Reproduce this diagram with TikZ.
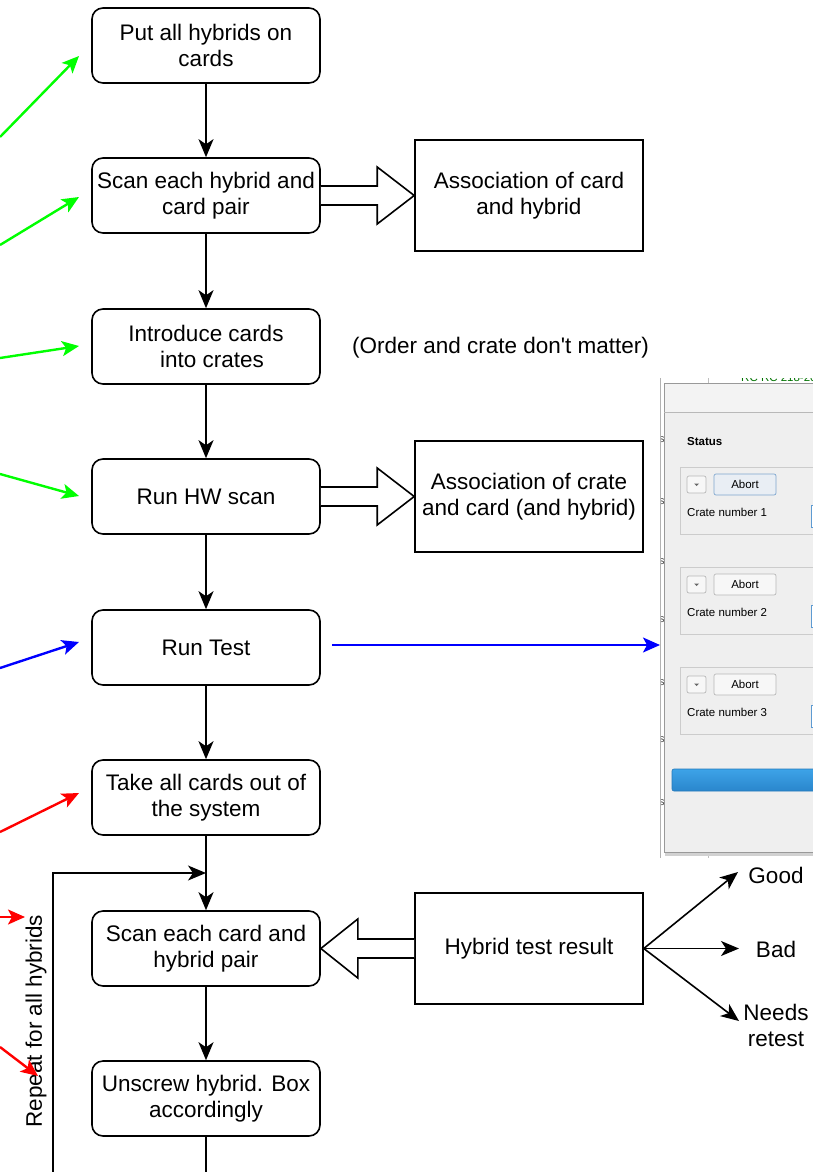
\documentclass[tikz,border=0pt]{standalone}
\usepackage{fontspec}
\setmainfont{Liberation Sans}
\newfontfamily\plainsans{Liberation Sans}
\usetikzlibrary{arrows.meta,calc}
\newcommand\flowfont{\fontsize{22.5}{26}\selectfont}
\newcommand\uifont{\fontsize{11.5}{13}\selectfont}
\definecolor{winbg}{HTML}{EFEFEF}
\definecolor{titlebg}{HTML}{F3F3F3}
\definecolor{cuegreen}{HTML}{00FF00}
\definecolor{focusedge}{HTML}{7FA7CF}
\definecolor{focusfill}{HTML}{E9EEF4}
\definecolor{fieldedge}{HTML}{5E9BD2}
\definecolor{bartop}{HTML}{3DA3E8}
\definecolor{barbot}{HTML}{2A86CC}
\definecolor{baredge}{HTML}{2479BA}
\begin{document}
\begin{tikzpicture}[x=1pt,y=-1pt,
  box/.style={draw,line width=1.6pt,rounded corners=11pt,minimum width=228pt,minimum height=75pt,inner sep=0pt,align=center,font=\flowfont},
  sbox/.style={draw,line width=1.6pt,minimum width=228pt,minimum height=111.5pt,inner sep=0pt,align=center,font=\flowfont},
  flow/.style={line width=1.6pt,-{Stealth[length=18pt,width=15pt,inset=5pt]}},
  plain/.style={line width=1.6pt},
  blockarrow/.style={draw,line width=1.6pt,fill=white,line join=miter},
  cue/.style={line width=2.4pt,-{Stealth[length=17pt,width=15pt,inset=4pt]}},
  lbl/.style={font=\flowfont,align=center,inner sep=0pt},
  uibtn/.style={draw=black!28,fill=black!3,rounded corners=2pt,line width=0.7pt},
  uigroup/.style={draw=black!20,fill=winbg,line width=0.7pt},
]
\path[use as bounding box,clip] (0,0) rectangle (813,1172);
\fill[white] (0,0) rectangle (813,1172);

% ---------- main process column ----------
\node[box] (b1) at (206,45.5)  {Put all hybrids on\\cards};
\node[box] (b2) at (206,195.5) {Scan each hybrid and\\card pair};
\node[box] (b3) at (206,346.5) {Introduce cards\\\hspace*{12pt}into crates};
\node[box] (b4) at (206,496.5) {Run HW scan};
\node[box] (b5) at (206,647.5) {Run Test};
\node[box] (b6) at (206,797.5) {Take all cards out of\\the system};
\node[box] (b7) at (206,948.5) {Scan each card and\\hybrid pair};
\node[box] (b8) at (206,1098.5) {Unscrew hybrid. Box\\accordingly};

% ---------- side boxes ----------
\node[sbox] (a1) at (529,195.5) {Association of card\\and hybrid};
\node[sbox] (a2) at (529,496.5) {Association of crate\\and card (and hybrid)};
\node[sbox] (hr) at (529,948.5) {Hybrid test result};
\node[lbl] (note) at (500.5,348) {\plainsans (Order and crate don't matter)};

% ---------- vertical flow ----------
\coordinate (join) at (206,873);
\coordinate (loopstart) at (53,1190);
\coordinate (down) at (206,1190);
\draw[flow] (b1.south) -- (b2.north);
\draw[flow] (b2.south) -- (b3.north);
\draw[flow] (b3.south) -- (b4.north);
\draw[flow] (b4.south) -- (b5.north);
\draw[flow] (b5.south) -- (b6.north);
\draw[flow] (b6.south) -- (b7.north);
\draw[flow] (b7.south) -- (b8.north);
\draw[plain] (b8.south) -- (down);
\draw[flow] (loopstart) |- (join);
\node[lbl,rotate=90] (rep) at (36,1021) {Repeat for all hybrids};

% ---------- block arrows ----------
\draw[blockarrow] ($(b2.east)+(0,-9.5)$) -- ($(a1.west)+(-37,-9.5)$) -- ($(a1.west)+(-37,-28.5)$)
  -- (a1.west) -- ($(a1.west)+(-37,28.5)$) -- ($(a1.west)+(-37,9.5)$) -- ($(b2.east)+(0,9.5)$);
\draw[blockarrow] ($(b4.east)+(0,-9.5)$) -- ($(a2.west)+(-37,-9.5)$) -- ($(a2.west)+(-37,-28.5)$)
  -- (a2.west) -- ($(a2.west)+(-37,28.5)$) -- ($(a2.west)+(-37,9.5)$) -- ($(b4.east)+(0,9.5)$);
\draw[blockarrow] ($(hr.west)+(0,-9.5)$) -- ($(b7.east)+(37,-9.5)$) -- ($(b7.east)+(37,-29.5)$)
  -- (b7.east) -- ($(b7.east)+(37,29.5)$) -- ($(b7.east)+(37,9.5)$) -- ($(hr.west)+(0,9.5)$);

% ---------- test outcomes ----------
\node[lbl] (good) at (776,875) {Good};
\node[lbl] (bad) at (776,949) {Bad};
\node[lbl] (retest) at (776,1025) {Needs\\retest};
\coordinate (tgood) at (738,872);
\coordinate (tbad) at (739,948.5);
\coordinate (tretest) at (739,1021);
\draw[flow] (hr.east) -- (tgood);
\draw[flow] (hr.east) -- (tbad);
\draw[flow] (hr.east) -- (tretest);

% ---------- incoming cues from the left ----------
\coordinate (g1s) at (0,137);  \coordinate (g1e) at (79,56);
\coordinate (g2s) at (0,245);  \coordinate (g2e) at (79,197);
\coordinate (g3s) at (0,358);  \coordinate (g3e) at (79,346);
\coordinate (g4s) at (0,474);  \coordinate (g4e) at (79,496);
\coordinate (bls) at (0,668);  \coordinate (ble) at (79,642);
\coordinate (r1s) at (0,832);  \coordinate (r1e) at (79,793);
\coordinate (r2s) at (-2,917); \coordinate (r2e) at (25,917);
\coordinate (r3s) at (0,1047); \coordinate (r3e) at (38,1076);
\draw[cue,cuegreen] (g1s) -- (g1e);
\draw[cue,cuegreen] (g2s) -- (g2e);
\draw[cue,cuegreen] (g3s) -- (g3e);
\draw[cue,cuegreen] (g4s) -- (g4e);
\draw[cue,blue] (bls) -- (ble);
\draw[cue,red] (r1s) -- (r1e);
\draw[cue,red] (r2s) -- (r2e);
\draw[cue,red] (r3s) -- (r3e);

% ---------- status window of the test program ----------
\begin{scope}
  \clip (660,378) rectangle (813,858);
  \fill[white] (660,378) rectangle (813,858);
  \draw[black!25,line width=0.8pt] (708,378) -- (708,858);
  \node[text=green!45!black,font=\uifont,anchor=base west,inner sep=0pt] at (741,381) {RC RC 218-201};
  \foreach \yy in {440,502,562,620,683,740,803}
    \node[text=black!70,font=\fontsize{11}{12}\selectfont,anchor=west,inner sep=0pt] at (659,\yy) {s};
  \fill[black!18] (665,386) rectangle (820,856);
  \filldraw[fill=winbg,draw=black!40,line width=0.8pt] (664,383) rectangle (820,852);
  \fill[titlebg] (664.5,383.5) rectangle (820,412);
  \draw[black!28,line width=0.8pt] (664,412) -- (820,412);
  \node[font=\uifont\bfseries,anchor=west,inner sep=0pt] at (687,442) {Status};
  \foreach \k/\dy in {1/0,2/100,3/200}{
    \draw[uigroup] (680,467+\dy) rectangle (820,534+\dy);
    \draw[uibtn] (687,476+\dy) rectangle (706,493+\dy);
    \fill[black!60] (694,483.5+\dy) -- (699,483.5+\dy) -- (696.5,486+\dy) -- cycle;
    \draw[draw=fieldedge,fill=white,line width=0.9pt] (811,505+\dy) rectangle (820,527+\dy);
    \node[font=\uifont,anchor=west,inner sep=0pt] at (687,512+\dy) {Crate number \k};
  }
  \draw[uibtn,draw=focusedge,fill=focusfill] (714,474) rectangle (776,495);
  \draw[uibtn] (714,574) rectangle (776,595);
  \draw[uibtn] (714,674) rectangle (776,695);
  \foreach \dy in {0,100,200}
    \node[font=\uifont,inner sep=0pt] at (745,484.5+\dy) {Abort};
  \draw[rounded corners=2pt,draw=baredge,top color=bartop,bottom color=barbot,line width=0.6pt]
    (672,769) rectangle (830,791);
\end{scope}
\draw[black!30,line width=0.8pt] (660.5,378) -- (660.5,858);
\coordinate (shotedge) at (660,645);
\draw[cue,blue,line width=2pt,shorten <=11pt] (b5.east |- shotedge) -- (shotedge);
\end{tikzpicture}
\end{document}
